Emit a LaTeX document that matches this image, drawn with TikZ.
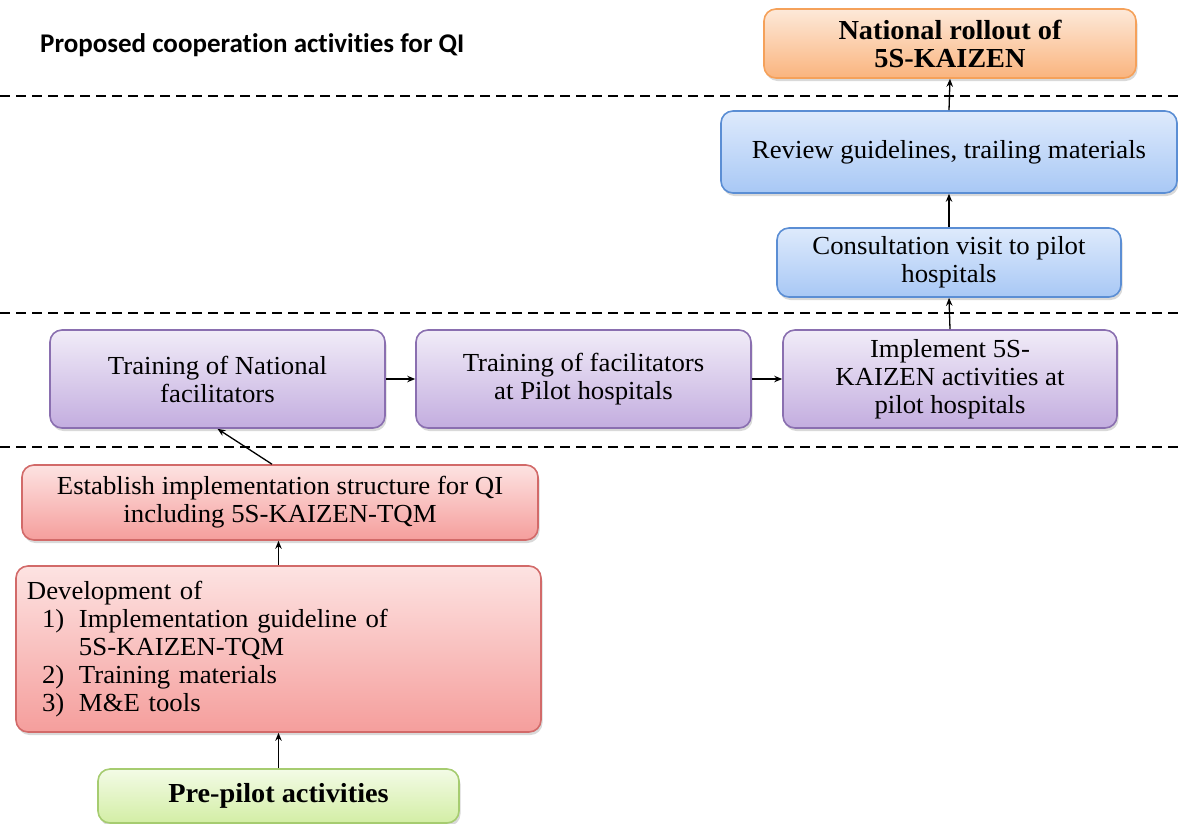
\documentclass[tikz,border=0pt]{standalone}
\usepackage{fontspec}
\setmainfont[FakeStretch=1.03]{Liberation Serif}
\newfontfamily\headfont[Ligatures=NoCommon]{Carlito}
\usetikzlibrary{shadows,arrows.meta}

\definecolor{purTop}{HTML}{F1ECF8}
\definecolor{purBot}{HTML}{C3ADDF}
\definecolor{purLine}{HTML}{8A6FB0}
\definecolor{bluTop}{HTML}{DEEAFC}
\definecolor{bluBot}{HTML}{A8C8F5}
\definecolor{bluLine}{HTML}{5B8ED4}
\definecolor{redTop}{HTML}{FDE3E2}
\definecolor{redBot}{HTML}{F59E9C}
\definecolor{redLine}{HTML}{D26A69}
\definecolor{orgTop}{HTML}{FDE9D9}
\definecolor{orgBot}{HTML}{FAB47E}
\definecolor{orgLine}{HTML}{F5A15A}
\definecolor{grnTop}{HTML}{F3FBE6}
\definecolor{grnBot}{HTML}{D3EEA5}
\definecolor{grnLine}{HTML}{A6CC70}

\tikzset{
  box/.style={draw, rounded corners=12pt, line width=1.6pt, align=center,
    inner sep=4pt, font=\fontsize{26}{28}\selectfont,
    drop shadow={shadow xshift=1.5pt, shadow yshift=-3pt, opacity=0.3}},
  purplebox/.style={box, draw=purLine, top color=purTop, bottom color=purBot},
  bluebox/.style={box, draw=bluLine, top color=bluTop, bottom color=bluBot},
  redbox/.style={box, draw=redLine, top color=redTop, bottom color=redBot},
  orangebox/.style={box, draw=orgLine, top color=orgTop, bottom color=orgBot},
  greenbox/.style={box, draw=grnLine, top color=grnTop, bottom color=grnBot},
  boldtext/.style={font=\bfseries\fontsize{27.5}{28}\selectfont},
  arr/.style={-{Stealth[length=8pt,width=6.5pt]}, line width=1.3pt, black},
  phase/.style={dash pattern=on 10pt off 6pt, line width=1.4pt, black},
}

\begin{document}
\begin{tikzpicture}[x=1pt,y=-1pt]
\useasboundingbox (0,0) rectangle (1178,823);

% heading
\node[anchor=west, inner sep=0, font=\headfont\bfseries\fontsize{27}{30}\selectfont] (title) at (40,45)
  {Proposed cooperation activities for QI};

% phase separators
\draw[phase] (0,96) -- (1178,96);
\draw[phase] (0,313) -- (1178,313);
\draw[phase] (0,447) -- (1178,447);

% top: national rollout
\node[orangebox, boldtext, minimum width=372pt, minimum height=69pt] (roll) at (950,43.5)
  {National rollout of\\5S-KAIZEN};

% review and consultation
\node[bluebox, minimum width=456pt, minimum height=82pt] (rev) at (949,152)
  {Review guidelines, trailing materials};
\node[bluebox, minimum width=344pt, minimum height=69pt] (cons) at (949,262.5)
  {Consultation visit to pilot\\hospitals};

% pilot phase
\node[purplebox, minimum width=335pt, minimum height=98pt] (tnf) at (217.5,379)
  {Training of National\\facilitators};
\node[purplebox, minimum width=335pt, minimum height=98pt] (tfp) at (583.5,379)
  {Training of facilitators\\at Pilot hospitals};
\node[purplebox, minimum width=334pt, minimum height=98pt] (impl) at (950,379)
  {Implement 5S-\\KAIZEN activities at\\pilot hospitals};

% pre-pilot phase
\node[redbox, minimum width=516pt, minimum height=75pt] (est) at (280,502.5)
  {Establish implementation structure for QI\\including 5S-KAIZEN-TQM};
\node[redbox, minimum width=525pt, minimum height=166pt, align=left,
      text width=503pt, inner xsep=11pt] (dev) at (278.5,649)
  {Development of\\
   \hspace*{15pt}\makebox[37pt][l]{1)}Implementation guideline of\\
   \hspace*{52pt}5S-KAIZEN-TQM\\
   \hspace*{15pt}\makebox[37pt][l]{2)}Training materials\\
   \hspace*{15pt}\makebox[37pt][l]{3)}M\&E tools};
\node[greenbox, boldtext, minimum width=361pt, minimum height=54pt] (pre) at (278.5,796)
  {Pre-pilot activities};

% flow
\draw[arr] (pre.north) -- (pre.north |- dev.south);
\draw[arr] (dev.north) -- (dev.north |- est.south);
\draw[arr] ([xshift=-8pt]est.north) -- (tnf.south);
\draw[arr] (tnf.east) -- (tfp.west);
\draw[arr] (tfp.east) -- (impl.west);
\draw[arr] (impl.north) -- (cons.south);
\draw[arr] (cons.north) -- (rev.south);
\draw[arr] (rev.north) -- (roll.south);
\end{tikzpicture}
\end{document}
